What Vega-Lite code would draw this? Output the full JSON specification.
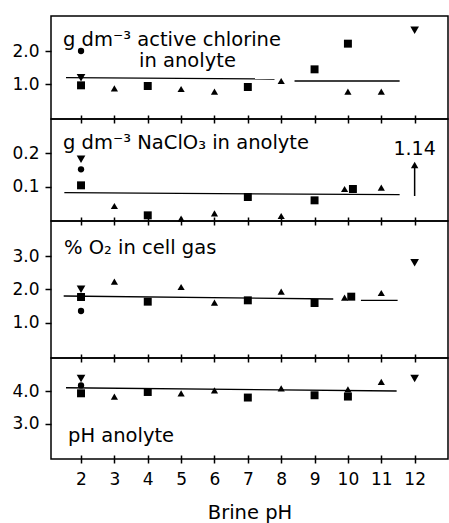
{
  "$schema": "https://vega.github.io/schema/vega-lite/v6.json",
  "background": "white",
  "padding": {"left": 11, "top": 15, "right": 2, "bottom": 2},
  "spacing": 0,
  "bounds": "flush",
  "resolve": {"scale": {"y": "independent"}},
  "config": {
    "view": {"stroke": "black", "strokeWidth": 1.5},
    "font": "DejaVu Sans",
    "text": {"font": "DejaVu Sans", "color": "black"},
    "axis": {"grid": false, "domain": false, "ticks": true, "tickColor": "black", "tickOpacity": 1, "tickWidth": 1.5, "labelColor": "black", "labelFont": "DejaVu Sans", "labelFontSize": 17, "labelOverlap": false, "titleColor": "black", "titleFont": "DejaVu Sans"}
  },
  "datasets": {
    "pts": [
      {"panel": "chlorine", "ph": 2, "value": 2.0, "series": "circle"},
      {"panel": "chlorine", "ph": 2, "value": 1.2, "series": "tri-down"},
      {"panel": "chlorine", "ph": 2, "value": 0.97, "series": "square"},
      {"panel": "chlorine", "ph": 3, "value": 0.88, "series": "tri-up"},
      {"panel": "chlorine", "ph": 4, "value": 0.95, "series": "square"},
      {"panel": "chlorine", "ph": 5, "value": 0.86, "series": "tri-up"},
      {"panel": "chlorine", "ph": 6, "value": 0.78, "series": "tri-up"},
      {"panel": "chlorine", "ph": 7, "value": 0.92, "series": "square"},
      {"panel": "chlorine", "ph": 8, "value": 1.1, "series": "tri-up"},
      {"panel": "chlorine", "ph": 9, "value": 1.45, "series": "square"},
      {"panel": "chlorine", "ph": 10, "value": 2.22, "series": "square"},
      {"panel": "chlorine", "ph": 10, "value": 0.78, "series": "tri-up"},
      {"panel": "chlorine", "ph": 11, "value": 0.78, "series": "tri-up"},
      {"panel": "chlorine", "ph": 12, "value": 2.62, "series": "tri-down"},
      {"panel": "chlorate", "ph": 2, "value": 0.182, "series": "tri-down"},
      {"panel": "chlorate", "ph": 2, "value": 0.152, "series": "circle"},
      {"panel": "chlorate", "ph": 2, "value": 0.104, "series": "square"},
      {"panel": "chlorate", "ph": 3, "value": 0.042, "series": "tri-up"},
      {"panel": "chlorate", "ph": 4, "value": 0.014, "series": "square"},
      {"panel": "chlorate", "ph": 5, "value": 0.004, "series": "tri-up"},
      {"panel": "chlorate", "ph": 6, "value": 0.02, "series": "tri-up"},
      {"panel": "chlorate", "ph": 7, "value": 0.069, "series": "square"},
      {"panel": "chlorate", "ph": 8, "value": 0.012, "series": "tri-up"},
      {"panel": "chlorate", "ph": 9, "value": 0.059, "series": "square"},
      {"panel": "chlorate", "ph": 9.9, "value": 0.093, "series": "tri-up"},
      {"panel": "chlorate", "ph": 10.15, "value": 0.093, "series": "square"},
      {"panel": "chlorate", "ph": 11, "value": 0.097, "series": "tri-up"},
      {"panel": "o2", "ph": 2, "value": 2.0, "series": "tri-down"},
      {"panel": "o2", "ph": 2, "value": 1.77, "series": "square"},
      {"panel": "o2", "ph": 2, "value": 1.35, "series": "circle"},
      {"panel": "o2", "ph": 3, "value": 2.23, "series": "tri-up"},
      {"panel": "o2", "ph": 4, "value": 1.63, "series": "square"},
      {"panel": "o2", "ph": 5, "value": 2.07, "series": "tri-up"},
      {"panel": "o2", "ph": 6, "value": 1.6, "series": "tri-up"},
      {"panel": "o2", "ph": 7, "value": 1.67, "series": "square"},
      {"panel": "o2", "ph": 8, "value": 1.93, "series": "tri-up"},
      {"panel": "o2", "ph": 9, "value": 1.59, "series": "square"},
      {"panel": "o2", "ph": 9.9, "value": 1.75, "series": "tri-up"},
      {"panel": "o2", "ph": 10.1, "value": 1.78, "series": "square"},
      {"panel": "o2", "ph": 11, "value": 1.89, "series": "tri-up"},
      {"panel": "o2", "ph": 12, "value": 2.8, "series": "tri-down"},
      {"panel": "ph", "ph": 2, "value": 4.38, "series": "tri-down"},
      {"panel": "ph", "ph": 2, "value": 4.17, "series": "circle"},
      {"panel": "ph", "ph": 2, "value": 3.93, "series": "square"},
      {"panel": "ph", "ph": 3, "value": 3.83, "series": "tri-up"},
      {"panel": "ph", "ph": 4, "value": 3.97, "series": "square"},
      {"panel": "ph", "ph": 5, "value": 3.93, "series": "tri-up"},
      {"panel": "ph", "ph": 6, "value": 4.02, "series": "tri-up"},
      {"panel": "ph", "ph": 7, "value": 3.8, "series": "square"},
      {"panel": "ph", "ph": 8, "value": 4.08, "series": "tri-up"},
      {"panel": "ph", "ph": 9, "value": 3.87, "series": "square"},
      {"panel": "ph", "ph": 10, "value": 4.05, "series": "tri-up"},
      {"panel": "ph", "ph": 10, "value": 3.83, "series": "square"},
      {"panel": "ph", "ph": 11, "value": 4.28, "series": "tri-up"},
      {"panel": "ph", "ph": 12, "value": 4.38, "series": "tri-down"}
    ],
    "lines": [
      {"panel": "chlorine", "x1": 1.55, "x2": 7.8, "y1": 1.2, "y2": 1.16},
      {"panel": "chlorine", "x1": 8.4, "x2": 11.55, "y1": 1.1, "y2": 1.1},
      {"panel": "chlorate", "x1": 1.5, "x2": 11.55, "y1": 0.082, "y2": 0.076},
      {"panel": "o2", "x1": 1.48, "x2": 9.56, "y1": 1.8, "y2": 1.71},
      {"panel": "o2", "x1": 10.39, "x2": 11.49, "y1": 1.67, "y2": 1.67},
      {"panel": "ph", "x1": 1.55, "x2": 11.46, "y1": 4.1, "y2": 4.0}
    ]
  },
  "vconcat": [
    {
      "width": 397, "height": 103,
      "layer": [
        {
          "data": {"name": "lines"},
          "transform": [{"filter": "datum.panel === 'chlorine'"}],
          "mark": {"type": "rule", "color": "black", "strokeWidth": 1.3},
          "encoding": {
            "x": {"field": "x1", "type": "quantitative", "scale": {"domain": [1.1, 13.0], "nice": false, "zero": false}, "axis": {"offset": -4, "tickSize": 8, "labels": false, "title": null, "labelOverlap": false, "values": [2,3,4,5,6,7,8,9,10,11,12], "zindex": 1}},
            "x2": {"field": "x2"},
            "y": {"field": "y1", "type": "quantitative", "scale": {"domain": [-0.04, 3.05], "nice": false, "zero": false}, "axis": {"values": [1, 2], "format": ".1f", "tickSize": 6, "labelPadding": 6, "title": null, "zindex": 1}},
            "y2": {"field": "y2"}
          }
        },
        {
          "data": {"name": "pts"},
          "transform": [{"filter": "datum.panel === 'chlorine'"}],
          "mark": {"type": "point", "filled": true, "color": "black", "opacity": 1},
          "encoding": {
            "x": {"field": "ph", "type": "quantitative", "scale": {"domain": [1.1, 13.0], "nice": false, "zero": false}, "axis": {"offset": -4, "tickSize": 8, "labels": false, "title": null, "labelOverlap": false, "values": [2,3,4,5,6,7,8,9,10,11,12], "zindex": 1}},
            "y": {"field": "value", "type": "quantitative", "scale": {"domain": [-0.04, 3.05], "nice": false, "zero": false}, "axis": {"values": [1, 2], "format": ".1f", "tickSize": 6, "labelPadding": 6, "title": null, "zindex": 1}},
            "shape": {"field": "series", "type": "nominal", "scale": {"domain": ["circle", "tri-up", "square", "tri-down"], "range": ["circle", "triangle-up", "square", "triangle-down"]}, "legend": null},
            "size": {"field": "series", "type": "nominal", "scale": {"domain": ["circle", "tri-up", "square", "tri-down"], "range": [40, 75, 45, 75]}, "legend": null}
          }
        },
        {
          "data": {"values": [{"t": "g dm⁻³ active chlorine"}]},
          "mark": {"type": "text", "align": "left", "baseline": "alphabetic", "fontSize": 19.5},
          "encoding": {
            "x": {"datum": 1.46, "type": "quantitative", "scale": {"domain": [1.1, 13.0], "nice": false, "zero": false}, "axis": {"offset": -4, "tickSize": 8, "labels": false, "title": null, "labelOverlap": false, "values": [2,3,4,5,6,7,8,9,10,11,12], "zindex": 1}},
            "y": {"datum": 2.15, "type": "quantitative", "scale": {"domain": [-0.04, 3.05], "nice": false, "zero": false}, "axis": {"values": [1, 2], "format": ".1f", "tickSize": 6, "labelPadding": 6, "title": null, "zindex": 1}},
            "text": {"field": "t"}
          }
        },
        {
          "data": {"values": [{"t": "in anolyte"}]},
          "mark": {"type": "text", "align": "left", "baseline": "alphabetic", "fontSize": 19.5},
          "encoding": {
            "x": {"datum": 3.74, "type": "quantitative", "scale": {"domain": [1.1, 13.0], "nice": false, "zero": false}, "axis": {"offset": -4, "tickSize": 8, "labels": false, "title": null, "labelOverlap": false, "values": [2,3,4,5,6,7,8,9,10,11,12], "zindex": 1}},
            "y": {"datum": 1.52, "type": "quantitative", "scale": {"domain": [-0.04, 3.05], "nice": false, "zero": false}, "axis": {"values": [1, 2], "format": ".1f", "tickSize": 6, "labelPadding": 6, "title": null, "zindex": 1}},
            "text": {"field": "t"}
          }
        }
      ]
    },
    {
      "width": 397, "height": 102,
      "layer": [
        {
          "data": {"name": "lines"},
          "transform": [{"filter": "datum.panel === 'chlorate'"}],
          "mark": {"type": "rule", "color": "black", "strokeWidth": 1.3},
          "encoding": {
            "x": {"field": "x1", "type": "quantitative", "scale": {"domain": [1.1, 13.0], "nice": false, "zero": false}, "axis": {"offset": -4, "tickSize": 8, "labels": false, "title": null, "labelOverlap": false, "values": [2,3,4,5,6,7,8,9,10,11,12], "zindex": 1}},
            "x2": {"field": "x2"},
            "y": {"field": "y1", "type": "quantitative", "scale": {"domain": [-0.003, 0.303], "nice": false, "zero": false}, "axis": {"values": [0.1, 0.2], "format": ".1f", "tickSize": 6, "labelPadding": 6, "title": null, "zindex": 1}},
            "y2": {"field": "y2"}
          }
        },
        {
          "data": {"name": "pts"},
          "transform": [{"filter": "datum.panel === 'chlorate'"}],
          "mark": {"type": "point", "filled": true, "color": "black", "opacity": 1},
          "encoding": {
            "x": {"field": "ph", "type": "quantitative", "scale": {"domain": [1.1, 13.0], "nice": false, "zero": false}, "axis": {"offset": -4, "tickSize": 8, "labels": false, "title": null, "labelOverlap": false, "values": [2,3,4,5,6,7,8,9,10,11,12], "zindex": 1}},
            "y": {"field": "value", "type": "quantitative", "scale": {"domain": [-0.003, 0.303], "nice": false, "zero": false}, "axis": {"values": [0.1, 0.2], "format": ".1f", "tickSize": 6, "labelPadding": 6, "title": null, "zindex": 1}},
            "shape": {"field": "series", "type": "nominal", "scale": {"domain": ["circle", "tri-up", "square", "tri-down"], "range": ["circle", "triangle-up", "square", "triangle-down"]}, "legend": null},
            "size": {"field": "series", "type": "nominal", "scale": {"domain": ["circle", "tri-up", "square", "tri-down"], "range": [40, 75, 45, 75]}, "legend": null}
          }
        },
        {
          "data": {"values": [{"ph": 12, "label": "1.14", "from": 0.072, "to": 0.16}]},
          "mark": {"type": "rule", "color": "black", "strokeWidth": 1.5},
          "encoding": {
            "x": {"field": "ph", "type": "quantitative", "scale": {"domain": [1.1, 13.0], "nice": false, "zero": false}, "axis": {"offset": -4, "tickSize": 8, "labels": false, "title": null, "labelOverlap": false, "values": [2,3,4,5,6,7,8,9,10,11,12], "zindex": 1}},
            "y": {"field": "from", "type": "quantitative", "scale": {"domain": [-0.003, 0.303], "nice": false, "zero": false}, "axis": {"values": [0.1, 0.2], "format": ".1f", "tickSize": 6, "labelPadding": 6, "title": null, "zindex": 1}},
            "y2": {"field": "to"}
          }
        },
        {
          "data": {"values": [{"ph": 12, "label": "1.14", "head": 0.165}]},
          "mark": {"type": "point", "shape": "triangle-up", "filled": true, "color": "black", "opacity": 1, "size": 55},
          "encoding": {
            "x": {"field": "ph", "type": "quantitative", "scale": {"domain": [1.1, 13.0], "nice": false, "zero": false}, "axis": {"offset": -4, "tickSize": 8, "labels": false, "title": null, "labelOverlap": false, "values": [2,3,4,5,6,7,8,9,10,11,12], "zindex": 1}},
            "y": {"field": "head", "type": "quantitative", "scale": {"domain": [-0.003, 0.303], "nice": false, "zero": false}, "axis": {"values": [0.1, 0.2], "format": ".1f", "tickSize": 6, "labelPadding": 6, "title": null, "zindex": 1}}
          }
        },
        {
          "data": {"values": [{"ph": 12, "label": "1.14"}]},
          "mark": {"type": "text", "align": "center", "baseline": "middle", "fontSize": 19},
          "encoding": {
            "x": {"field": "ph", "type": "quantitative", "scale": {"domain": [1.1, 13.0], "nice": false, "zero": false}, "axis": {"offset": -4, "tickSize": 8, "labels": false, "title": null, "labelOverlap": false, "values": [2,3,4,5,6,7,8,9,10,11,12], "zindex": 1}},
            "y": {"datum": 0.214, "type": "quantitative", "scale": {"domain": [-0.003, 0.303], "nice": false, "zero": false}, "axis": {"values": [0.1, 0.2], "format": ".1f", "tickSize": 6, "labelPadding": 6, "title": null, "zindex": 1}},
            "text": {"field": "label"}
          }
        },
        {
          "data": {"values": [{"t": "g dm⁻³ NaClO₃ in anolyte"}]},
          "mark": {"type": "text", "align": "left", "baseline": "middle", "fontSize": 19.5},
          "encoding": {
            "x": {"datum": 1.46, "type": "quantitative", "scale": {"domain": [1.1, 13.0], "nice": false, "zero": false}, "axis": {"offset": -4, "tickSize": 8, "labels": false, "title": null, "labelOverlap": false, "values": [2,3,4,5,6,7,8,9,10,11,12], "zindex": 1}},
            "y": {"datum": 0.232, "type": "quantitative", "scale": {"domain": [-0.003, 0.303], "nice": false, "zero": false}, "axis": {"values": [0.1, 0.2], "format": ".1f", "tickSize": 6, "labelPadding": 6, "title": null, "zindex": 1}},
            "text": {"field": "t"}
          }
        }
      ]
    },
    {
      "width": 397, "height": 137,
      "layer": [
        {
          "data": {"name": "lines"},
          "transform": [{"filter": "datum.panel === 'o2'"}],
          "mark": {"type": "rule", "color": "black", "strokeWidth": 1.3},
          "encoding": {
            "x": {"field": "x1", "type": "quantitative", "scale": {"domain": [1.1, 13.0], "nice": false, "zero": false}, "axis": {"offset": -4, "tickSize": 8, "labels": false, "title": null, "labelOverlap": false, "values": [2,3,4,5,6,7,8,9,10,11,12], "zindex": 1}},
            "x2": {"field": "x2"},
            "y": {"field": "y1", "type": "quantitative", "scale": {"domain": [-0.06, 4.05], "nice": false, "zero": false}, "axis": {"values": [1, 2, 3], "format": ".1f", "tickSize": 6, "labelPadding": 6, "title": null, "zindex": 1}},
            "y2": {"field": "y2"}
          }
        },
        {
          "data": {"name": "pts"},
          "transform": [{"filter": "datum.panel === 'o2'"}],
          "mark": {"type": "point", "filled": true, "color": "black", "opacity": 1},
          "encoding": {
            "x": {"field": "ph", "type": "quantitative", "scale": {"domain": [1.1, 13.0], "nice": false, "zero": false}, "axis": {"offset": -4, "tickSize": 8, "labels": false, "title": null, "labelOverlap": false, "values": [2,3,4,5,6,7,8,9,10,11,12], "zindex": 1}},
            "y": {"field": "value", "type": "quantitative", "scale": {"domain": [-0.06, 4.05], "nice": false, "zero": false}, "axis": {"values": [1, 2, 3], "format": ".1f", "tickSize": 6, "labelPadding": 6, "title": null, "zindex": 1}},
            "shape": {"field": "series", "type": "nominal", "scale": {"domain": ["circle", "tri-up", "square", "tri-down"], "range": ["circle", "triangle-up", "square", "triangle-down"]}, "legend": null},
            "size": {"field": "series", "type": "nominal", "scale": {"domain": ["circle", "tri-up", "square", "tri-down"], "range": [40, 75, 45, 75]}, "legend": null}
          }
        },
        {
          "data": {"values": [{"t": "% O₂ in cell gas"}]},
          "mark": {"type": "text", "align": "left", "baseline": "middle", "fontSize": 19.5},
          "encoding": {
            "x": {"datum": 1.49, "type": "quantitative", "scale": {"domain": [1.1, 13.0], "nice": false, "zero": false}, "axis": {"offset": -4, "tickSize": 8, "labels": false, "title": null, "labelOverlap": false, "values": [2,3,4,5,6,7,8,9,10,11,12], "zindex": 1}},
            "y": {"datum": 3.25, "type": "quantitative", "scale": {"domain": [-0.06, 4.05], "nice": false, "zero": false}, "axis": {"values": [1, 2, 3], "format": ".1f", "tickSize": 6, "labelPadding": 6, "title": null, "zindex": 1}},
            "text": {"field": "t"}
          }
        }
      ]
    },
    {
      "width": 397, "height": 101,
      "layer": [
        {
          "data": {"name": "lines"},
          "transform": [{"filter": "datum.panel === 'ph'"}],
          "mark": {"type": "rule", "color": "black", "strokeWidth": 1.3},
          "encoding": {
            "x": {"field": "x1", "type": "quantitative", "scale": {"domain": [1.1, 13.0], "nice": false, "zero": false}, "axis": {"offset": -4, "tickSize": 8, "labelPadding": 8, "labelOverlap": false, "title": "Brine pH", "titleFontSize": 19.5, "titleFontWeight": "normal", "titlePadding": 16, "format": "d", "values": [2,3,4,5,6,7,8,9,10,11,12], "zindex": 1}},
            "x2": {"field": "x2"},
            "y": {"field": "y1", "type": "quantitative", "scale": {"domain": [1.92, 5.01], "nice": false, "zero": false}, "axis": {"values": [3, 4], "format": ".1f", "tickSize": 6, "labelPadding": 6, "title": null, "zindex": 1}},
            "y2": {"field": "y2"}
          }
        },
        {
          "data": {"name": "pts"},
          "transform": [{"filter": "datum.panel === 'ph'"}],
          "mark": {"type": "point", "filled": true, "color": "black", "opacity": 1},
          "encoding": {
            "x": {"field": "ph", "type": "quantitative", "scale": {"domain": [1.1, 13.0], "nice": false, "zero": false}, "axis": {"offset": -4, "tickSize": 8, "labelPadding": 8, "labelOverlap": false, "title": "Brine pH", "titleFontSize": 19.5, "titleFontWeight": "normal", "titlePadding": 16, "format": "d", "values": [2,3,4,5,6,7,8,9,10,11,12], "zindex": 1}},
            "y": {"field": "value", "type": "quantitative", "scale": {"domain": [1.92, 5.01], "nice": false, "zero": false}, "axis": {"values": [3, 4], "format": ".1f", "tickSize": 6, "labelPadding": 6, "title": null, "zindex": 1}},
            "shape": {"field": "series", "type": "nominal", "scale": {"domain": ["circle", "tri-up", "square", "tri-down"], "range": ["circle", "triangle-up", "square", "triangle-down"]}, "legend": null},
            "size": {"field": "series", "type": "nominal", "scale": {"domain": ["circle", "tri-up", "square", "tri-down"], "range": [40, 75, 45, 75]}, "legend": null}
          }
        },
        {
          "data": {"values": [{"t": "pH anolyte"}]},
          "mark": {"type": "text", "align": "left", "baseline": "middle", "fontSize": 19.5},
          "encoding": {
            "x": {"datum": 1.61, "type": "quantitative", "scale": {"domain": [1.1, 13.0], "nice": false, "zero": false}, "axis": {"offset": -4, "tickSize": 8, "labelPadding": 8, "labelOverlap": false, "title": "Brine pH", "titleFontSize": 19.5, "titleFontWeight": "normal", "titlePadding": 16, "format": "d", "values": [2,3,4,5,6,7,8,9,10,11,12], "zindex": 1}},
            "y": {"datum": 2.62, "type": "quantitative", "scale": {"domain": [1.92, 5.01], "nice": false, "zero": false}, "axis": {"values": [3, 4], "format": ".1f", "tickSize": 6, "labelPadding": 6, "title": null, "zindex": 1}},
            "text": {"field": "t"}
          }
        }
      ]
    }
  ]
}
